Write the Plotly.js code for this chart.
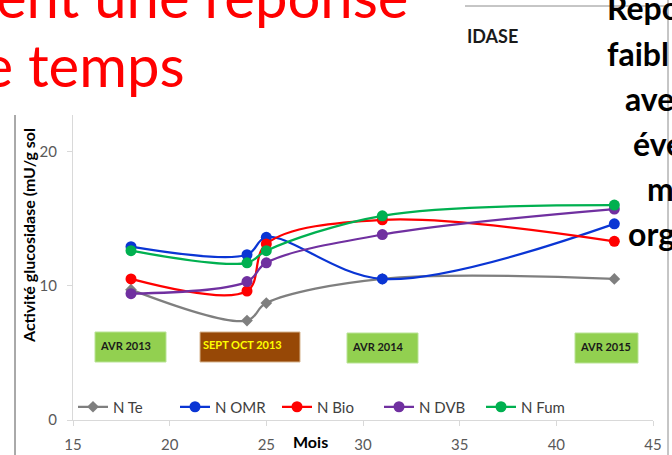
<!DOCTYPE html>
<html>
<head>
<meta charset="utf-8">
<script src="https://cdn.plot.ly/plotly-3.0.1.min.js"></script>
<style>html,body{margin:0;padding:0;background:#fff;}#chart{width:672px;height:455px;}</style>
</head>
<body>
<div id="chart"></div>
<script>
// ---- data ----
var months = [18, 24, 25, 31, 43];
var seriesNames = ["N Te", "N OMR", "N Bio", "N DVB", "N Fum"];
var nTe  = [9.7, 7.4, 8.7, 10.5, 10.5];
var nOMR = [12.9, 12.3, 13.6, 10.5, 14.6];
var nBio = [10.5, 9.6, 13.1, 14.9, 13.3];
var nDVB = [9.4, 10.3, 11.7, 13.8, 15.7];
var nFum = [12.6, 11.7, 12.6, 15.2, 16.0];
var xTicks = [15, 20, 25, 30, 35, 40, 45];
var yTicks = [0, 10, 20];
var periodLabels = ["AVR 2013", "SEPT OCT 2013", "AVR 2014", "AVR 2015"];

// ---- styling ----
var colors = ["#7f7f7f", "#0a35d4", "#ff0000", "#7030a0", "#00b050"];
var symbols = ["diamond", "circle", "circle", "circle", "circle"];
var values = [nTe, nOMR, nBio, nDVB, nFum];
var FONT = "Lato, 'Open Sans', sans-serif";

// pixel helpers for decoration (plot area: x 73..653, y 115..420)
function px(p){ return (p - 73) / 580; }
function py(p){ return (420 - p) / 305; }

var traces = seriesNames.map(function(n, i){
  return {
    x: months, y: values[i], name: n, type: "scatter", mode: "lines+markers",
    line: {color: colors[i], width: 2.25, shape: "spline", smoothing: 1},
    marker: {color: colors[i], symbol: symbols[i], size: i === 0 ? 9 : 11}
  };
});

var boxes = [
  {x0: 95, x1: 166, y0: 332, y1: 362, fill: "#92d050", line: "#b9e396", tx: 125, ty: 345, tc: "#1a1a1a"},
  {x0: 200, x1: 300, y0: 332, y1: 362, fill: "#974806", line: "#d6b48e", tx: 243, ty: 344, tc: "#ffff00"},
  {x0: 347, x1: 418, y0: 333, y1: 363, fill: "#92d050", line: "#b9e396", tx: 378, ty: 346, tc: "#1a1a1a"},
  {x0: 575, x1: 638, y0: 333, y1: 363, fill: "#92d050", line: "#b9e396", tx: 605, ty: 346, tc: "#1a1a1a"}
];

var shapes = boxes.map(function(b){
  return {type: "rect", xref: "paper", yref: "paper", x0: px(b.x0), x1: px(b.x1), y0: py(b.y1), y1: py(b.y0),
          fillcolor: b.fill, line: {color: b.line, width: 1}, layer: "below"};
});
// slide lines
shapes.push({type: "line", xref: "paper", yref: "paper", x0: px(465), x1: px(668), y0: py(6), y1: py(6), line: {color: "#8c8c8c", width: 1}});
shapes.push({type: "line", xref: "paper", yref: "paper", x0: px(668), x1: px(668), y0: py(0), y1: py(455), line: {color: "#8c8c8c", width: 1}});
shapes.push({type: "line", xref: "paper", yref: "paper", x0: px(15), x1: px(15), y0: py(115), y1: py(455), line: {color: "#555555", width: 1}});

var annotations = boxes.map(function(b, i){
  return {xref: "paper", yref: "paper", x: px(b.tx), y: py(b.ty), text: "<b>" + periodLabels[i] + "</b>",
          showarrow: false, font: {family: FONT, size: 11, color: b.tc}, xanchor: "center", yanchor: "middle"};
});
annotations.push({xref: "paper", yref: "paper", x: px(310), y: py(441), text: "<b>Mois</b>", showarrow: false,
                  font: {family: FONT, size: 16, color: "#000"}, xanchor: "center", yanchor: "middle"});
annotations.push({xref: "paper", yref: "paper", x: px(28), y: py(236), text: "<b>Activité glucosidase (mU/g sol</b>",
                  textangle: -90, showarrow: false, font: {family: FONT, size: 16, color: "#000"}, xanchor: "center", yanchor: "middle"});
// slide text
annotations.push({xref: "paper", yref: "paper", x: px(410), y: py(-4), text: "ent une réponse", showarrow: false,
                  font: {family: FONT, size: 58, color: "#ff0000"}, xanchor: "right", yanchor: "middle"});
annotations.push({xref: "paper", yref: "paper", x: px(187), y: py(64), text: "de temps", showarrow: false,
                  font: {family: FONT, size: 58, color: "#ff0000"}, xanchor: "right", yanchor: "middle"});
annotations.push({xref: "paper", yref: "paper", x: px(465), y: py(36), text: "<b>IDASE</b>", showarrow: false,
                  font: {family: FONT, size: 18, color: "#1a1a1a"}, xanchor: "left", yanchor: "middle"});
var sideText = ["Repo", "faibl", "ave", "éve", "m", "org"];
var sideX = [605, 605, 623, 631, 645, 626];
sideText.forEach(function(t, i){
  annotations.push({xref: "paper", yref: "paper", x: px(sideX[i]), y: py(8 + 45 * i), text: "<b>" + t + "</b>", showarrow: false,
                    font: {family: FONT, size: 32, color: "#000"}, xanchor: "left", yanchor: "middle"});
});

var layout = {
  width: 672, height: 455,
  margin: {l: 73, r: 19, t: 115, b: 35, pad: 0},
  paper_bgcolor: "#fff", plot_bgcolor: "#fff",
  font: {family: FONT},
  showlegend: true,
  legend: {orientation: "h", x: px(73), y: py(407), xanchor: "left", yanchor: "middle",
           font: {family: FONT, size: 15, color: "#404040"}, bgcolor: "rgba(0,0,0,0)",
           entrywidth: 57, entrywidthmode: "pixels", itemwidth: 30, tracegroupgap: 0},
  xaxis: {range: [15, 45], tickvals: xTicks, ticks: "outside", ticklen: 5, tickcolor: "#d9d9d9",
          showline: true, linecolor: "#d9d9d9", linewidth: 1, showgrid: false, zeroline: false,
          tickfont: {family: FONT, size: 15, color: "#595959"}, ticklabelstandoff: 6, fixedrange: true},
  yaxis: {range: [0, 22.7], tickvals: yTicks, ticks: "outside", ticklen: 5, tickcolor: "#d9d9d9",
          showline: true, linecolor: "#d9d9d9", linewidth: 1, showgrid: false, zeroline: false,
          tickfont: {family: FONT, size: 15, color: "#595959"}, ticklabelstandoff: 7, fixedrange: true},
  shapes: shapes,
  annotations: annotations
};

Plotly.newPlot("chart", traces, layout, {displayModeBar: false, staticPlot: true});
</script>
</body>
</html>
